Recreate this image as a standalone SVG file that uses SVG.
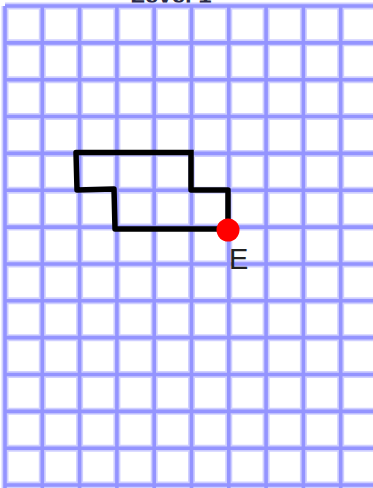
<svg xmlns="http://www.w3.org/2000/svg" width="373" height="488" viewBox="0 0 373 488">
<style>
.halo{stroke:#cfcfff;stroke-width:7;fill:none}
.grid{stroke:#9494ff;stroke-width:3.6;fill:none}
.path{stroke:#000;stroke-width:5.5;fill:none;stroke-linejoin:round;stroke-linecap:square}
</style>
<rect width="373" height="488" fill="#fff"/>
<text x="171" y="3" font-family="Liberation Sans, sans-serif" font-size="24" font-weight="bold" fill="#2a2a44" text-anchor="middle">Level 1</text>
<g id="grid">
<path class="halo" d="M5,6V488M42.3,6V488M79.6,6V488M116.9,6V488M154.2,6V488M191.5,6V488M228.8,6V488M266.1,6V488M303.4,6V488M340.7,6V488M5,6H373M5,42.85H373M5,79.7H373M5,116.55H373M5,153.4H373M5,190.25H373M5,227.1H373M5,263.95H373M5,300.8H373M5,337.65H373M5,374.5H373M5,411.35H373M5,448.2H373M5,485H373"/>
<path class="grid" d="M5,6V488M42.3,6V488M79.6,6V488M116.9,6V488M154.2,6V488M191.5,6V488M228.8,6V488M266.1,6V488M303.4,6V488M340.7,6V488M5,6H373M5,42.85H373M5,79.7H373M5,116.55H373M5,153.4H373M5,190.25H373M5,227.1H373M5,263.95H373M5,300.8H373M5,337.65H373M5,374.5H373M5,411.35H373M5,448.2H373M5,485H373"/>
</g>
<g id="connectors">
<path class="path" d="M191,152.5H76L77,190L114,189L115,229H228V190H191V152.5"/>
</g>
<g id="nodeE">
<circle cx="228" cy="230" r="11.5" fill="#ff0000"/>
<text x="229" y="269" font-family="Liberation Sans, sans-serif" font-size="29" fill="#222">E</text>
</g>
</svg>
